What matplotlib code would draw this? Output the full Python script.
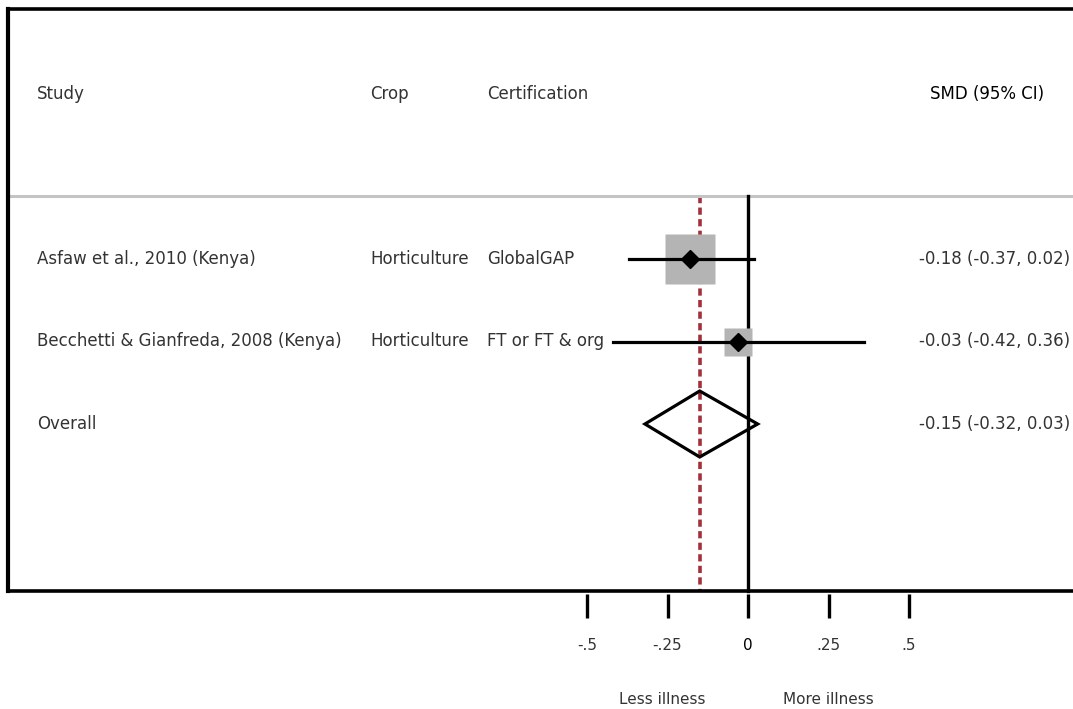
import matplotlib.pyplot as plt
import numpy as np
from matplotlib.patches import Polygon

# --- data ---
studies = ["Asfaw et al., 2010 (Kenya)", "Becchetti & Gianfreda, 2008 (Kenya)"]
crops = ["Horticulture", "Horticulture"]
certs = ["GlobalGAP", "FT or FT & org"]
smd = [-0.18, -0.03]
ci_low = [-0.37, -0.42]
ci_high = [0.02, 0.36]
weights = [78.0, 22.0]
overall = (-0.15, -0.32, 0.03)
xticks = [-0.5, -0.25, 0, 0.25, 0.5]
xtick_labels = ["-.5", "-.25", "0", ".25", ".5"]

plt.rcParams['font.family'] = ['DejaVu Sans']
txt_col = '#333333'
fs = 12

fig = plt.figure(figsize=(10.73, 7.09), dpi=100, facecolor='white')
ax = fig.add_axes([0, 0, 1, 1])
ax.axis('off')
# x in SMD units, y in row units (0 = header row)
px_per_unit = 322.0
x0_px = 748.0
row_px = 82.5
top_px = 94.0
ax.set_xlim(-x0_px / px_per_unit, (1073 - x0_px) / px_per_unit)
ax.set_ylim((709 - top_px) / row_px, -top_px / row_px)

def px2x(p):
    return (p - x0_px) / px_per_unit

def px2y(p):
    return (p - top_px) / row_px

left = px2x(8)
right = px2x(1080)
y_top = px2y(9)
y_bot = px2y(591)
y_sep = px2y(196)

# frame
ax.plot([left, left], [y_top, y_bot], color='black', lw=3, solid_capstyle='projecting', zorder=4)
ax.plot([left, right], [y_top, y_top], color='black', lw=2.6, zorder=4)
ax.plot([left, right], [y_bot, y_bot], color='black', lw=2.6, zorder=4)
ax.plot([left + 0.003, right], [y_sep, y_sep], color='#c4c4c4', lw=2.2, zorder=3)

# header
cols_x = [px2x(37), px2x(370), px2x(487)]
for cx, h in zip(cols_x, ["Study", "Crop", "Certification"]):
    ax.text(cx, 0, h, ha='left', va='center', fontsize=fs, color=txt_col)
ax.text(px2x(930), 0, "SMD (95% CI)", ha='left', va='center', fontsize=fs, color='black')

# reference lines
ax.plot([0, 0], [y_sep, y_bot], color='black', lw=2.4, zorder=3)
ax.plot([overall[0], overall[0]], [y_sep, y_bot], color='#a3303a', lw=2.6,
        dashes=(2, 1.2), zorder=2)

rows = np.arange(len(studies)) + 2
for i, r in enumerate(rows):
    ax.text(cols_x[0], r, studies[i], ha='left', va='center', fontsize=fs, color=txt_col)
    ax.text(cols_x[1], r, crops[i], ha='left', va='center', fontsize=fs, color=txt_col)
    ax.text(cols_x[2], r, certs[i], ha='left', va='center', fontsize=fs, color=txt_col)
    side = 5.77 * np.sqrt(weights[i])
    ax.plot(smd[i], r, marker='s', ms=side / 1.389, color='#b4b4b4', mec='none', zorder=4)
    ax.plot([ci_low[i], ci_high[i]], [r, r], color='black', lw=2.3, zorder=5)
    ax.plot(smd[i], r, marker='D', ms=9, color='black', zorder=6)
    ax.text(px2x(919), r, f"{smd[i]:.2f} ({ci_low[i]:.2f}, {ci_high[i]:.2f})",
            ha='left', va='center', fontsize=fs, color=txt_col, clip_on=True)

# overall
ro = rows[-1] + 1
ax.text(cols_x[0], ro, "Overall", ha='left', va='center', fontsize=fs, color=txt_col)
est, lo, hi = overall
dia = Polygon([[lo, ro], [est, ro - 0.4], [hi, ro], [est, ro + 0.4]], closed=True,
              fill=False, ec='black', lw=2.3, joinstyle='miter', zorder=6)
ax.add_patch(dia)
ax.text(px2x(919), ro, f"{est:.2f} ({lo:.2f}, {hi:.2f})",
        ha='left', va='center', fontsize=fs, color=txt_col, clip_on=True)

# x axis ticks
t0 = px2y(594)
t1 = px2y(618)
for t, lab in zip(xticks, xtick_labels):
    ax.plot([t, t], [t0, t1], color='black', lw=2.4, solid_capstyle='butt')
    ax.text(t, px2y(645), lab, ha='center', va='center', fontsize=11,
            color='black' if t == 0 else txt_col)
ax.text(-0.265, px2y(700), "Less illness", ha='center', va='center', fontsize=11, color=txt_col)
ax.text(0.25, px2y(700), "More illness", ha='center', va='center', fontsize=11, color=txt_col)

fig.savefig('out.png', dpi=100, facecolor='white')
